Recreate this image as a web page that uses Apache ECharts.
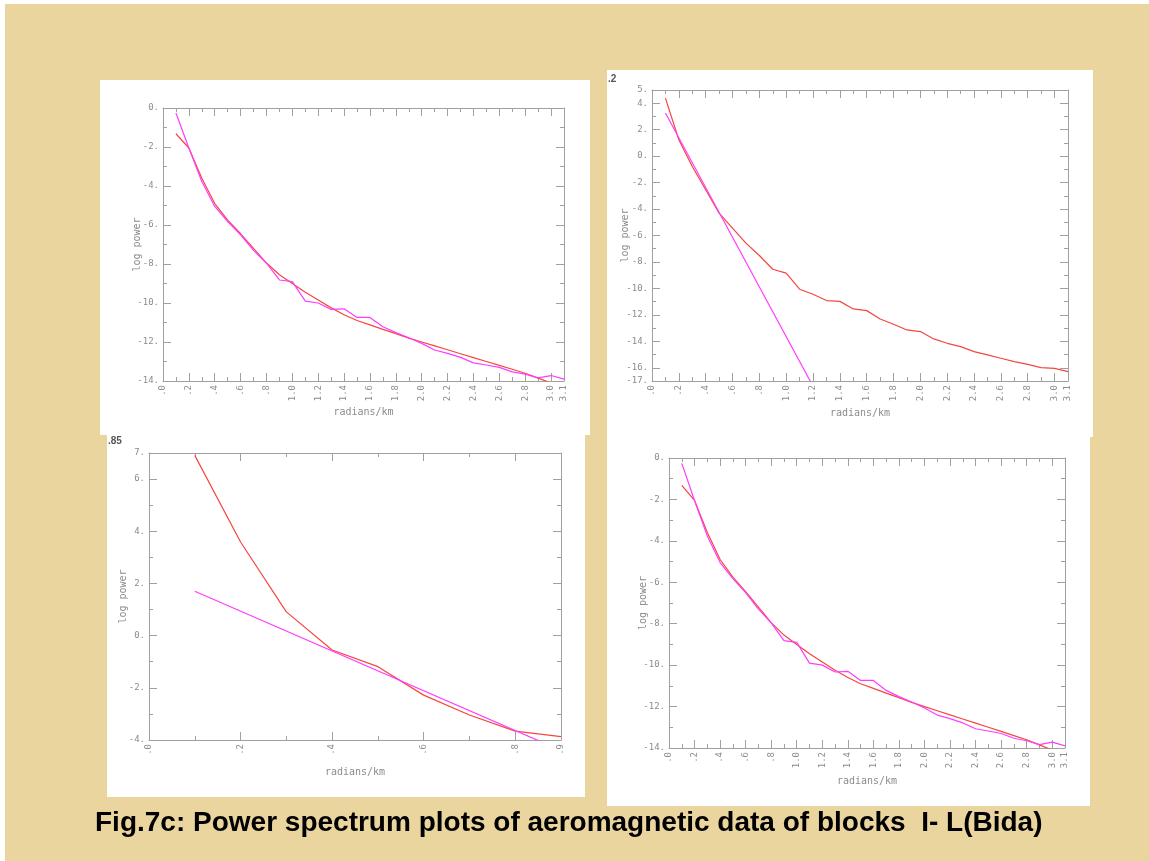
<!DOCTYPE html>
<html>
<head>
<meta charset="utf-8">
<script src="https://cdn.jsdelivr.net/npm/echarts@6/dist/echarts.min.js"></script>
<style>
  html, body { margin: 0; padding: 0; background: #fff; }
  #chart { width: 1149px; height: 861px; }
</style>
</head>
<body>
<div id="chart"></div>
<script>
// frequency samples (radians/km) for blocks I, J and L
const freq = [0.1, 0.2, 0.3, 0.4, 0.5, 0.6, 0.7, 0.8, 0.9, 1.0,
  1.1, 1.2, 1.3, 1.4, 1.5, 1.6, 1.7, 1.8, 1.9, 2.0,
  2.1, 2.2, 2.3, 2.4, 2.5, 2.6, 2.7, 2.8, 2.9, 3.0, 3.1];

// block I (also shown for block L): observed spectrum and fitted curve
const obsI = [-0.26, -2.05, -3.77, -5.05, -5.82, -6.50, -7.30, -7.96, -8.82, -8.90,
  -9.90, -10.00, -10.33, -10.30, -10.74, -10.74, -11.22, -11.52, -11.78, -12.07,
  -12.41, -12.58, -12.79, -13.07, -13.18, -13.30, -13.53, -13.65, -13.84, -13.72, -13.90];
const fitI = [-1.32, -2.05, -3.60, -4.90, -5.75, -6.45, -7.20, -7.95, -8.55, -9.00,
  -9.45, -9.85, -10.25, -10.60, -10.90, -11.12, -11.35, -11.57, -11.80, -12.00,
  -12.20, -12.40, -12.60, -12.80, -13.00, -13.20, -13.40, -13.60, -13.85, -14.10];

// block J: observed spectrum and straight fit
const obsJ = [4.39, 1.24, -0.78, -2.54, -4.31, -5.44, -6.58, -7.51, -8.55, -8.85,
  -10.06, -10.44, -10.92, -10.98, -11.55, -11.68, -12.31, -12.71, -13.14, -13.26,
  -13.82, -14.15, -14.40, -14.78, -15.03, -15.28, -15.53, -15.74, -15.99, -16.04, -16.29];
const fitJx = [0.1, 1.2];
const fitJ = [3.26, -17.4];

// block K: low-frequency part
const freqK = [0.1, 0.2, 0.3, 0.4, 0.5, 0.6, 0.7, 0.8, 0.9];
const obsK = [6.91, 3.59, 0.91, -0.55, -1.19, -2.28, -3.04, -3.66, -3.87];
const fitKx = [0.1, 0.9];
const fitK = [1.70, -4.40];

// tick positions and labels
const xLabLong = [0, 0.2, 0.4, 0.6, 0.8, 1.0, 1.2, 1.4, 1.6, 1.8, 2.0, 2.2, 2.4, 2.6, 2.8, 3.0, 3.1];
const xMajLong = [0, 0.2, 0.4, 0.6, 0.8, 1.0, 1.2, 1.4, 1.6, 1.8, 2.0, 2.2, 2.4, 2.6, 2.8, 3.0, 3.1];
const xMinLong = [0.1, 0.3, 0.5, 0.7, 0.9, 1.1, 1.3, 1.5, 1.7, 1.9, 2.1, 2.3, 2.5, 2.7, 2.9];
const yLabI = [0, -2, -4, -6, -8, -10, -12, -14];
const yMinI = [-1, -3, -5, -7, -9, -11, -13];
const yLabJ = [5, 4, 2, 0, -2, -4, -6, -8, -10, -12, -14, -16, -17];
const yMinJ = [3, 1, -1, -3, -5, -7, -9, -11, -13, -15];
const xLabK = [0, 0.2, 0.4, 0.6, 0.8, 0.9];
const xMinK = [0.1, 0.3, 0.5, 0.7];
const yLabK = [7, 6, 4, 2, 0, -2, -4];
const yMinK = [5, 3, 1, -1, -3];

const caption = 'Fig.7c: Power spectrum plots of aeromagnetic data of blocks  I- L(Bida)';

const GREY = '#a0a0a0';
const TXT = '#8c8c8c';
const RED = '#f5473f';
const MAG = '#ff3cff';
const MONO = '"DejaVu Sans Mono", monospace';

const zip = (xs, ys) => ys.map((y, i) => [xs[i], y]);
const fmtX = v => v < 0.95 ? '.' + Math.round(v * 10) : v.toFixed(1);
const fmtY = v => v + '.';

// one side of the box: main axis (line, long ticks, labels) + minor axis (short ticks)
function sideAxes(g, position, min, max, major, minor, labels, fmt, name, nameGap) {
  const isX = position === 'bottom' || position === 'top';
  const main = {
    type: 'value', gridIndex: g, position: position, min: min, max: max,
    axisLine: { show: true, onZero: false, lineStyle: { color: GREY, width: 1 } },
    axisTick: { show: true, inside: true, length: 8, customValues: major, lineStyle: { color: GREY } },
    axisLabel: labels ? {
      show: true, customValues: labels, formatter: fmt, rotate: isX ? 90 : 0,
      color: TXT, fontFamily: MONO, fontSize: 9, margin: 4
    } : { show: false },
    splitLine: { show: false }
  };
  if (name) {
    main.name = name;
    main.nameLocation = 'middle';
    main.nameGap = nameGap;
    main.nameMoveOverlap = false;
    main.nameTextStyle = { color: TXT, fontFamily: MONO, fontSize: 10 };
  }
  const sub = {
    type: 'value', gridIndex: g, position: position, min: min, max: max,
    axisLine: { show: false, onZero: false },
    axisTick: { show: true, inside: true, length: 4, customValues: minor, lineStyle: { color: GREY } },
    axisLabel: { show: false },
    splitLine: { show: false }
  };
  return [main, sub];
}

const panels = [
  { grid: { left: 163, top: 108, width: 401, height: 273 },
    x: [0, 3.1, xMajLong, xMinLong, xLabLong], y: [-14, 0, yLabI, yMinI, yLabI], gaps: [26, 21] },
  { grid: { left: 652, top: 90, width: 416, height: 291 },
    x: [0, 3.1, xMajLong, xMinLong, xLabLong], y: [-17, 5, yLabJ.slice(1, -1), yMinJ, yLabJ], gaps: [27, 22] },
  { grid: { left: 149, top: 453, width: 412, height: 287 },
    x: [0, 0.9, xLabK, xMinK, xLabK], y: [-4, 7, yLabK, yMinK, yLabK], gaps: [27, 21] },
  { grid: { left: 669, top: 458, width: 396, height: 290 },
    x: [0, 3.1, xMajLong, xMinLong, xLabLong], y: [-14, 0, yLabI, yMinI, yLabI], gaps: [28, 21] }
];

const grids = [], xAxes = [], yAxes = [];
panels.forEach((p, g) => {
  grids.push(p.grid);
  const [x0, x1, xMaj, xMin, xLab] = p.x;
  const [y0, y1, yMaj, yMin, yLab] = p.y;
  xAxes.push(...sideAxes(g, 'bottom', x0, x1, xMaj, xMin, xLab, fmtX, 'radians/km', p.gaps[0]));
  xAxes.push(...sideAxes(g, 'top', x0, x1, xMaj, xMin, null));
  yAxes.push(...sideAxes(g, 'left', y0, y1, yMaj, yMin, yLab, fmtY, 'log power', p.gaps[1]));
  yAxes.push(...sideAxes(g, 'right', y0, y1, yMaj, yMin, null));
});

function line(g, data, color) {
  return {
    type: 'line', xAxisIndex: g * 4, yAxisIndex: g * 4, data: data,
    symbol: 'none', smooth: false, clip: true,
    lineStyle: { color: color, width: 1.2 }, itemStyle: { color: color }
  };
}

const series = [
  line(0, zip(freq, fitI), RED),
  line(0, zip(freq, obsI), MAG),
  line(1, zip(freq, obsJ), RED),
  line(1, zip(fitJx, fitJ), MAG),
  line(2, zip(freqK, obsK), RED),
  line(2, zip(fitKx, fitK), MAG),
  line(3, zip(freq, fitI), RED),
  line(3, zip(freq, obsI), MAG)
];

const chart = echarts.init(document.getElementById('chart'));
chart.setOption({
  animation: false,
  backgroundColor: '#ffffff',
  graphic: [
    { type: 'rect', z: -10, shape: { x: 5, y: 4, width: 1144, height: 857 }, style: { fill: '#ebd59f' } },
    { type: 'rect', z: -9, shape: { x: 100, y: 80, width: 490, height: 355 }, style: { fill: '#ffffff' } },
    { type: 'rect', z: -9, shape: { x: 607, y: 70, width: 486, height: 367 }, style: { fill: '#ffffff' } },
    { type: 'rect', z: -9, shape: { x: 107, y: 435, width: 478, height: 362 }, style: { fill: '#ffffff' } },
    { type: 'rect', z: -9, shape: { x: 607, y: 437, width: 483, height: 369 }, style: { fill: '#ffffff' } },
    { type: 'text', z: 5, x: 608, y: 79, style: { text: '.2', fill: '#555', font: 'bold 10px "Liberation Sans", Arial', textVerticalAlign: 'middle' } },
    { type: 'text', z: 5, x: 108, y: 441, style: { text: '.85', fill: '#555', font: 'bold 10px "Liberation Sans", Arial', textVerticalAlign: 'middle' } },
    { type: 'text', z: 5, x: 95, y: 823, style: { text: caption, fill: '#000', font: 'bold 28px "Liberation Sans", Arial, sans-serif', textVerticalAlign: 'middle' } }
  ],
  grid: grids,
  xAxis: xAxes,
  yAxis: yAxes,
  series: series
});
</script>
</body>
</html>
